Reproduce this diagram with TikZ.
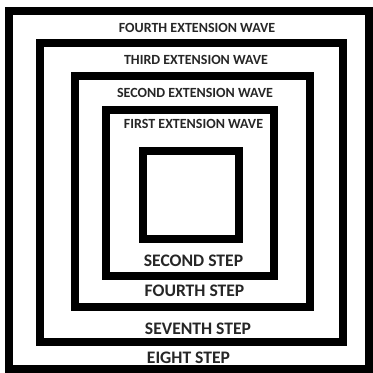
\documentclass[tikz,border=0pt]{standalone}
\usepackage{fontspec}
\setmainfont{Carlito}
\usepackage{tikz}

\begin{document}
\begin{tikzpicture}[
    x=1pt,y=-1pt,
    wave/.style={draw=black, line width=8pt},
    wavelabel/.style={font=\fontsize{14}{15}\selectfont\bfseries, inner sep=0pt, text=black!85},
    steplabel/.style={font=\fontsize{17.6}{18}\selectfont\bfseries, inner sep=0pt, text=black!85}
  ]
    \useasboundingbox (0,0) rectangle (373,373);
    \draw[wave] (9,11) rectangle (369,369);
    \draw[wave] (39.5,42.5) rectangle (343,342);
    \draw[wave] (74.5,75.5) rectangle (310,307);
    \draw[wave] (105.5,110) rectangle (273.5,276);
    \draw[wave] (143,150.5) rectangle (239,239);

    \node[wavelabel] (w4) at (197,27.5) {FOURTH EXTENSION WAVE};
    \node[wavelabel] (w3) at (196,60) {THIRD EXTENSION WAVE};
    \node[wavelabel] (w2) at (195,93) {SECOND EXTENSION WAVE};
    \node[wavelabel] (w1) at (193.5,124) {FIRST EXTENSION WAVE};

    \node[steplabel] (s2) at (193.5,261) {SECOND STEP};
    \node[steplabel] (s4) at (194.5,291) {FOURTH STEP};
    \node[steplabel] (s7) at (198,329) {SEVENTH STEP};
    \node[steplabel] (s8) at (188.5,357.5) {EIGHT STEP};
\end{tikzpicture}
\end{document}
